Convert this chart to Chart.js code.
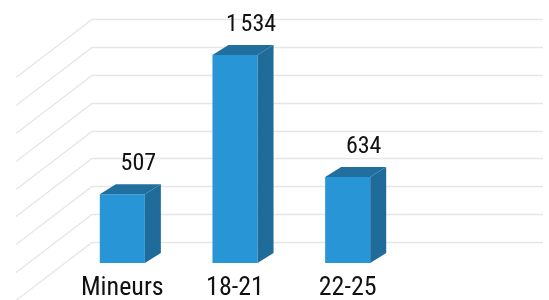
<!DOCTYPE html>
<html>
<head>
<meta charset="utf-8">
<script src="https://cdn.jsdelivr.net/npm/chart.js@4.4.0/dist/chart.umd.min.js"></script>
<style>
  html, body { margin: 0; padding: 0; background: #fff; }
  #wrap { width: 549px; height: 300px; position: relative; }
</style>
</head>
<body>
<div id="wrap"><canvas id="ageChart"></canvas></div>
<script>
// Données du graphique
const categories = ['Mineurs', '18-21', '22-25'];
const effectifs = [507, 1534, 634];
const wallTicks = [0, 200, 400, 600, 800, 1000, 1200, 1400, 1600];

const FRONT = '#2896d6';
const SIDE = '#1f6b99';
const TOP = '#216f9f';
const DEPTH_X = 16, DEPTH_Y = 10;
const LABEL_FONT = '"Roboto Condensed", "Liberation Sans Narrow", "DejaVu Sans Condensed", sans-serif';

// format "1 534" (espace fine insécable)
function formatNombre(v) {
    return String(v).replace(/\B(?=(\d{3})+(?!\d))/g, '\u202F');
}

// Mur du fond + lignes en perspective
const wallPlugin = {
    id: 'wall',
    beforeDatasetsDraw(chart) {
        const ctx = chart.ctx;
        const area = chart.chartArea;
        const wall = chart.scales.wall;
        const xLeft = area.left + 26;
        const xRight = area.right + 139;
        ctx.save();
        ctx.strokeStyle = '#e6e6e6';
        ctx.lineWidth = 1.3;
        wallTicks.forEach(function(t) {
            const y = Math.round(wall.getPixelForValue(t)) + 0.5;
            ctx.beginPath();
            ctx.moveTo(xRight, y);
            ctx.lineTo(xLeft, y);
            ctx.lineTo(xLeft - 76, y + 58);
            ctx.stroke();
        });
        ctx.restore();
    }
};

// Faces 3D (dessus + côté) et étiquettes de valeur
const bar3dPlugin = {
    id: 'bar3d',
    afterDatasetsDraw(chart) {
        const ctx = chart.ctx;
        const meta = chart.getDatasetMeta(0);
        meta.data.forEach(function(bar, i) {
            const half = bar.width / 2;
            const l = bar.x - half, r = bar.x + half;
            const top = bar.y, base = bar.base;
            ctx.save();

            // côté droit
            ctx.fillStyle = SIDE;
            ctx.beginPath();
            ctx.moveTo(r, top);
            ctx.lineTo(r + DEPTH_X, top - DEPTH_Y);
            ctx.lineTo(r + DEPTH_X, base - DEPTH_Y);
            ctx.lineTo(r, base);
            ctx.closePath();
            ctx.fill();

            // dessus
            ctx.fillStyle = TOP;
            ctx.beginPath();
            ctx.moveTo(l, top);
            ctx.lineTo(l + DEPTH_X, top - DEPTH_Y);
            ctx.lineTo(r + DEPTH_X, top - DEPTH_Y);
            ctx.lineTo(r, top);
            ctx.closePath();
            ctx.fill();

            // valeur
            ctx.fillStyle = '#111';
            ctx.font = '24px ' + LABEL_FONT;
            ctx.textAlign = 'center';
            ctx.textBaseline = 'middle';
            ctx.fillText(formatNombre(effectifs[i]), bar.x + 16, top - 30);
            ctx.restore();
        });
    }
};

const ctx = document.getElementById('ageChart').getContext('2d');
new Chart(ctx, {
    type: 'bar',
    data: {
        labels: categories,
        datasets: [{
            data: effectifs,
            backgroundColor: FRONT,
            borderWidth: 0,
            barPercentage: 0.4,
            categoryPercentage: 1
        }]
    },
    options: {
        responsive: true,
        maintainAspectRatio: false,
        animation: false,
        layout: { padding: { top: 19, left: 66, right: 145, bottom: 0 } },
        plugins: {
            legend: { display: false },
            tooltip: { enabled: false }
        },
        scales: {
            x: {
                grid: { display: false },
                border: { display: false },
                ticks: {
                    color: '#111',
                    font: { family: LABEL_FONT, size: 26 },
                    padding: 2
                },
                afterFit: function(scale) { scale.height = 37; }
            },
            y: {
                display: false,
                min: 0,
                max: 1800
            },
            wall: {
                display: false,
                position: 'left',
                min: -150,
                max: 1600
            }
        }
    },
    plugins: [wallPlugin, bar3dPlugin]
});
</script>
</body>
</html>
